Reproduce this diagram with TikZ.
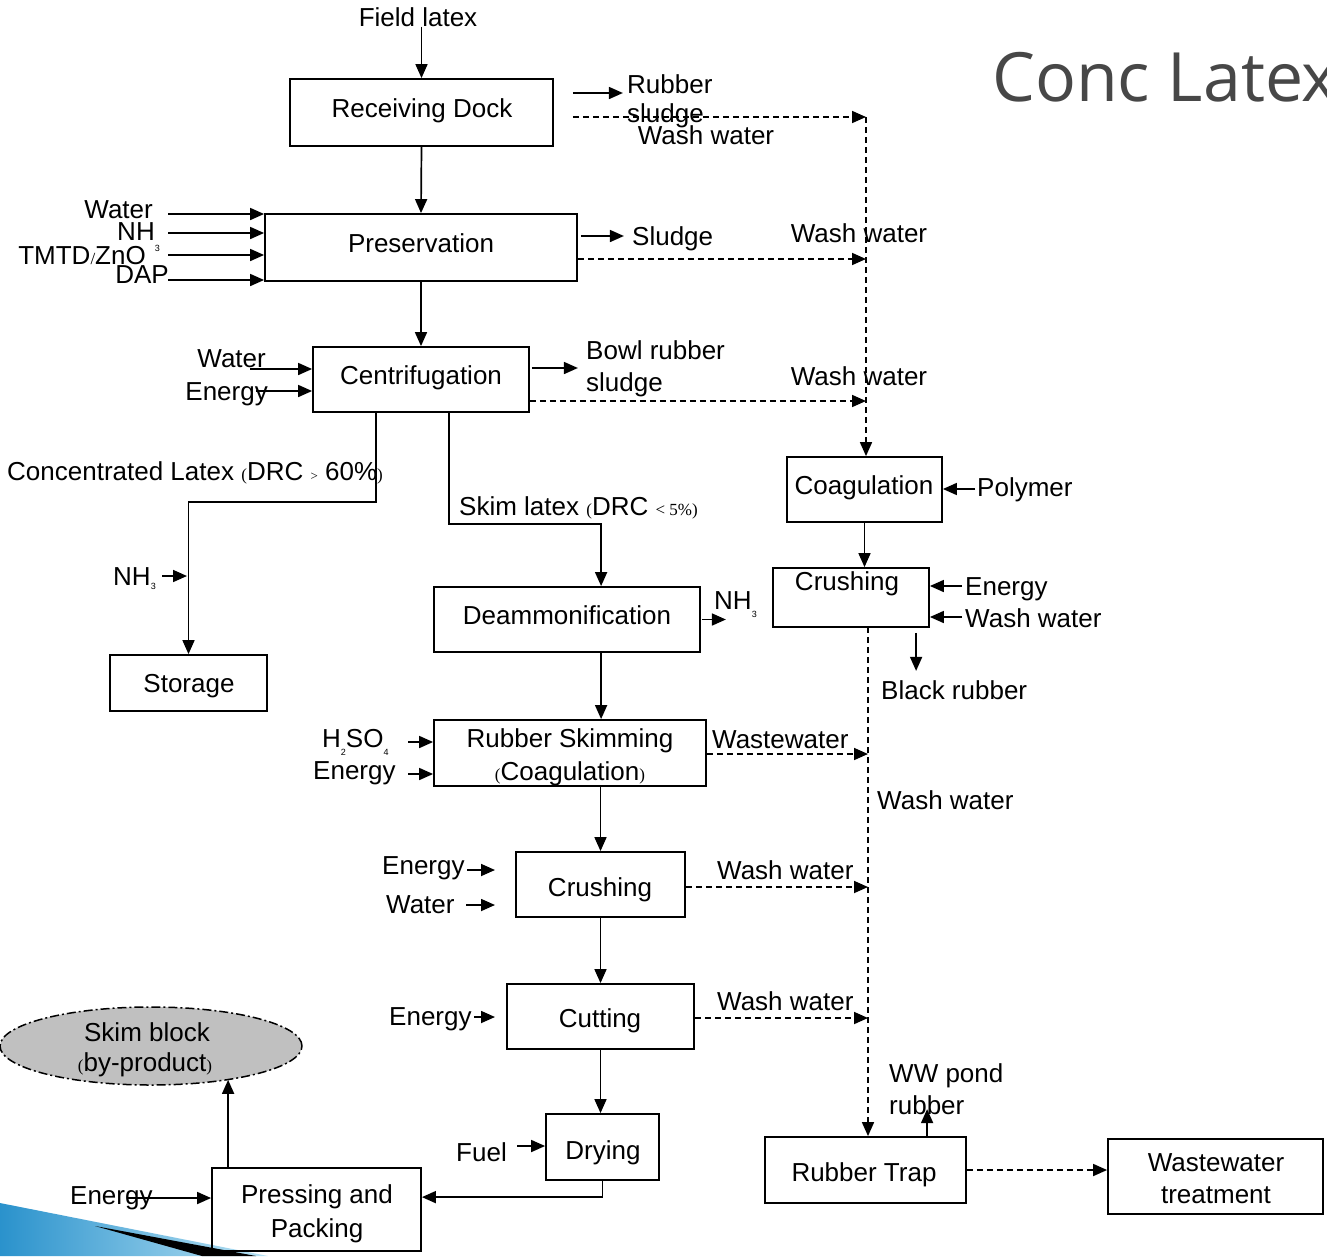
\documentclass[tikz,border=0pt]{standalone}
\usepackage{fontspec}
\setmainfont{Liberation Sans}
\newfontfamily\tms{Liberation Serif}
\newfontfamily\ttlfont{Open Sans}
\usetikzlibrary{arrows.meta,shapes.geometric}
\definecolor{ttlgray}{HTML}{474747}
\definecolor{sbgray}{HTML}{C0C0C0}
\definecolor{bluedark}{HTML}{2A92CC}
\definecolor{bluelight}{HTML}{B8E2F4}
\newcommand\smpar[1]{{\tms\fontsize{17}{17}\selectfont #1}}
\newcommand\tinysym[1]{{\tms\fontsize{13}{13}\selectfont #1}}
\newcommand\subn[2]{\raisebox{-#1pt}{\fontsize{9}{9}\selectfont #2}}
\begin{document}
\begin{tikzpicture}[x=1pt,y=-1pt,
  font=\fontsize{26}{30}\selectfont,
  box/.style={draw,line width=1.8pt,inner sep=0pt},
  lbl/.style={inner sep=0pt,text height=18.6pt,text depth=0pt},
  arr/.style={line width=1.7pt,-{Triangle[length=14pt,width=12pt]}},
  darr/.style={arr,dash pattern=on 6pt off 4pt}]
\useasboundingbox (0,0) rectangle (1327,1256);
\clip (0,0) rectangle (1327,1256);
\fill[white] (0,0) rectangle (1327,1256);

% decoration bottom-left
\shade[left color=bluedark,right color=bluelight] (0,1203) -- (268,1256) -- (0,1256) -- cycle;
\fill[black] (95,1226) -- (256,1256) -- (202,1256) -- cycle;

% title
\node[anchor=base west,inner sep=0pt,font=\ttlfont\fontsize{68}{68}\selectfont,text=ttlgray] (ttl) at (992,101) {Conc Latex};

% boxes
\node[box,minimum width=263pt,minimum height=67pt] (rd) at (421.5,112.5) {};
\node[box,minimum width=312pt,minimum height=67pt] (pres) at (421,247.5) {};
\node[box,minimum width=216pt,minimum height=65pt] (cent) at (421,379.5) {};
\node[box,minimum width=157pt,minimum height=56pt] (stor) at (188.5,683) {};
\node[box,minimum width=266pt,minimum height=65pt] (deam) at (567,619.5) {};
\node[box,minimum width=272pt,minimum height=66pt] (skim) at (570,753) {};
\node[box,minimum width=169pt,minimum height=65pt] (crl) at (600.5,884.5) {};
\node[box,minimum width=187pt,minimum height=65pt] (cut) at (600.5,1016.5) {};
\node[box,minimum width=113pt,minimum height=66pt] (dry) at (602.5,1147) {};
\node[box,minimum width=209pt,minimum height=83pt] (press) at (316.5,1209.5) {};
\node[box,minimum width=155pt,minimum height=65pt] (coag) at (864.5,489.5) {};
\node[box,minimum width=156pt,minimum height=59pt] (crr) at (851,597.5) {};
\node[box,minimum width=201pt,minimum height=66pt] (trap) at (865.5,1170) {};
\node[box,minimum width=215pt,minimum height=75pt] (wwt) at (1215.5,1176.5) {};
\node[ellipse,draw,fill=sbgray,line width=1.5pt,dash pattern=on 9pt off 3pt on 2pt off 3pt,
      minimum width=302pt,minimum height=78pt,inner sep=0pt] (sb) at (151,1046) {};

% box texts
\node[lbl] (rdt) at (422,108) {Receiving Dock};
\node[lbl] (prest) at (421,243) {Preservation};
\node[lbl] (centt) at (421,375) {Centrifugation};
\node[lbl] (stort) at (189,683) {Storage};
\node[lbl] (deamt) at (567,615) {Deammonification};
\node[lbl] (skimt1) at (570,738) {Rubber Skimming};
\node[lbl] (skimt2) at (570,771) {\smpar{(}Coagulation\smpar{)}};
\node[lbl] (crlt) at (600,887) {Crushing};
\node[lbl] (cutt) at (600,1018) {Cutting};
\node[lbl] (dryt) at (603,1150) {Drying};
\node[lbl] (presst1) at (317,1194) {Pressing and};
\node[lbl] (presst2) at (317,1228) {Packing};
\node[lbl] (sbt1) at (147,1032) {Skim block};
\node[lbl] (sbt2) at (145,1062) {\smpar{(}by-product\smpar{)}};
\node[lbl] (coagt) at (864,485) {Coagulation};
\node[lbl] (crrt) at (847,581) {Crushing};
\node[lbl] (trapt) at (864,1172) {Rubber Trap};
\node[lbl] (wwtt1) at (1216,1162) {Wastewater};
\node[lbl] (wwtt2) at (1216,1194) {treatment};

% free labels
\node[lbl] (fl) at (418,17) {Field latex};
\node[lbl,anchor=west] (rub1) at (627,84) {Rubber};
\node[lbl,anchor=west] (rub2) at (627,113) {sludge};
\node[lbl] (ww0) at (706,135) {Wash water};
\node[lbl,anchor=west] (slu) at (632,236) {Sludge};
\node[lbl] (ww1) at (859,233) {Wash water};
\node[lbl,anchor=west] (bowl1) at (586,350) {Bowl rubber};
\node[lbl,anchor=west] (bowl2) at (586,382) {sludge};
\node[lbl] (ww2) at (859,376) {Wash water};

\node[lbl,anchor=east] (pin1) at (153,209) {Water};
\node[lbl,anchor=east] (pin2) at (160,231) {NH\subn{11}{3}};
\node[lbl,anchor=east] (pin3) at (146,255) {TMTD\smpar{/}ZnO};
\node[lbl,anchor=east] (pin4) at (169,274) {DAP};

\node[lbl,anchor=east] (cin1) at (266,358) {Water};
\node[lbl,anchor=east] (cin2) at (268,391) {Energy};

\node[lbl,anchor=west] (conc) at (7,471) {Concentrated Latex \smpar{(}DRC \tinysym{>} 60\%\smpar{)}};
\node[lbl,anchor=west] (skl) at (459,506) {Skim latex \smpar{(}DRC \smpar{<\ 5\%)}};
\node[lbl,anchor=west] (snh) at (113,576) {NH\subn{4}{3}};
\node[lbl,anchor=west] (dnh) at (714,600) {NH\subn{8}{3}};

\node[lbl,anchor=west] (sin1) at (322,738) {H\subn{8}{2}SO\subn{8}{4}};
\node[lbl,anchor=west] (sin2) at (313,770) {Energy};
\node[lbl,anchor=west] (wwa) at (712,739) {Wastewater};

\node[lbl,anchor=west] (kin1) at (382,865) {Energy};
\node[lbl,anchor=west] (kin2) at (386,904) {Water};
\node[lbl,anchor=west] (ww3) at (717,870) {Wash water};
\node[lbl,anchor=west] (tin1) at (389,1016) {Energy};
\node[lbl,anchor=west] (ww4) at (717,1001) {Wash water};
\node[lbl,anchor=west] (fuel) at (456,1152) {Fuel};
\node[lbl,anchor=west] (pin) at (70,1195) {Energy};

\node[lbl,anchor=west] (poly) at (977,487) {Polymer};
\node[lbl,anchor=west] (ren) at (965,586) {Energy};
\node[lbl,anchor=west] (rww) at (965,618) {Wash water};
\node[lbl,anchor=west] (blk) at (881,690) {Black rubber};
\node[lbl,anchor=west] (wwv) at (877,800) {Wash water};
\node[lbl,anchor=west] (wwp1) at (889,1073) {WW pond};
\node[lbl,anchor=west] (wwp2) at (889,1105) {rubber};

% coordinates on collector lines and free ends
\coordinate (v0) at (866,117);
\coordinate (v1) at (866,259);
\coordinate (v2) at (866,401);
\coordinate (v3) at (868,627);
\coordinate (v4) at (868,754);
\coordinate (v5) at (868,887);
\coordinate (v6) at (868,1018);
\coordinate (pw1) at (168,214);
\coordinate (pw2) at (168,233);
\coordinate (pw3) at (168,255);
\coordinate (pw4) at (168,280);
\coordinate (cw1) at (250,369);
\coordinate (cw2) at (256,391);
\coordinate (sn) at (162,576);
\coordinate (sk1) at (408,742);
\coordinate (sk2) at (408,774);
\coordinate (kr1) at (467,870);
\coordinate (kr2) at (466,905);
\coordinate (ct1) at (474,1017);
\coordinate (fu) at (517,1146);
\coordinate (pe) at (127,1198);
\coordinate (pc) at (975,489);
\coordinate (re1) at (962,586);
\coordinate (re2) at (962,617);

% main flow
\draw[arr] (fl.south -| rd.north) -- (rd.north);
\draw[arr] (rd.south) -- (pres.north);
\draw[arr] (pres.south) -- (cent.north);
\draw[arr] ([xshift=64pt]cent.south west) -- ++(0,89) -| (stor.north);
\draw[arr] ([xshift=137pt]cent.south west) -- ++(0,111) -| ([xshift=168pt]deam.north west);
\draw[arr] ([xshift=168pt]deam.south west) -- ([xshift=168pt]skim.north west);
\draw[arr] (crl.north |- skim.south) -- (crl.north);
\draw[arr] (crl.south) -- (cut.north);
\draw[arr] (cut.south) -- (cut.south |- dry.north);
\draw[arr] (dry.south) |- ([yshift=-30pt]press.north east);
\draw[arr] ([xshift=17pt]press.north west) -- ([xshift=17pt]press.north west |- sb.-23);
\draw[arr] (coag.south) -- (coag.south |- crr.north);

% inputs
\draw[arr] (pw1) -- (pw1 -| pres.west);
\draw[arr] (pw2) -- (pw2 -| pres.west);
\draw[arr] (pw3) -- (pw3 -| pres.west);
\draw[arr] (pw4) -- (pw4 -| pres.west);
\draw[arr] (cw1) -- (cw1 -| cent.west);
\draw[arr] (cw2) -- (cw2 -| cent.west);
\draw[arr] (sn) -- ++(25,0);
\draw[arr] (sk1) -- (sk1 -| skim.west);
\draw[arr] (sk2) -- (sk2 -| skim.west);
\draw[arr] (kr1) -- ++(28,0);
\draw[arr] (kr2) -- ++(29,0);
\draw[arr] (ct1) -- ++(21,0);
\draw[arr] (fu) -- (fu -| dry.west);
\draw[arr] (pe) -- (pe -| press.west);
\draw[arr] (pc) -- (pc -| coag.east);
\draw[arr] (re1) -- (re1 -| crr.east);
\draw[arr] (re2) -- (re2 -| crr.east);

% outputs
\draw[arr] ([xshift=19pt,yshift=19.5pt]rd.east) -- ++(50,0);
\draw[arr] ([xshift=3pt,yshift=11.5pt]pres.east) -- ++(43,0);
\draw[arr] ([xshift=2pt,yshift=11.5pt]cent.east) -- ++(46,0);
\draw[arr] ([xshift=1pt]deam.east) -- ++(24,0);
\draw[arr] ([xshift=144pt,yshift=-5pt]crr.south west) -- ++(0,38);
\draw[arr] ([xshift=163pt]trap.north west) -- ++(0,-27);

% wash water collectors (dashed)
\draw[darr] ([xshift=19pt]rd.east |- v0) -- (v0);
\draw[darr] (pres.east |- v1) -- (v1);
\draw[darr] (cent.east |- v2) -- (v2);
\draw[darr] (v0) -- (v0 |- coag.north);
\draw[darr] (skim.east |- v4) -- (v4);
\draw[darr] (crl.east |- v5) -- (v5);
\draw[darr] (cut.east |- v6) -- (v6);
\draw[darr] (v3) -- (v3 |- trap.north);
\draw[darr] (trap.east) -- (trap.east -| wwt.west);
\end{tikzpicture}
\end{document}
